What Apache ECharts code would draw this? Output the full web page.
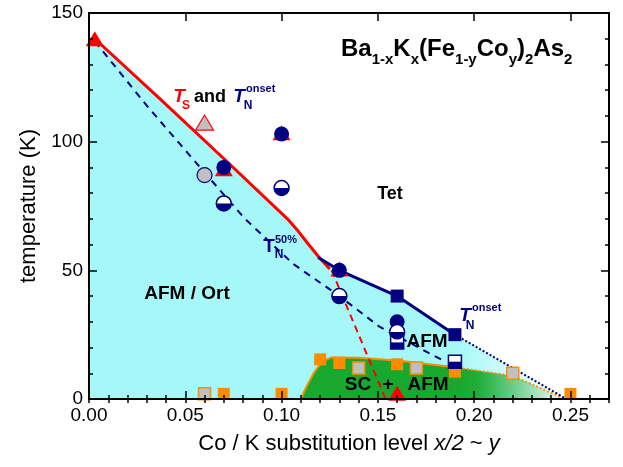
<!DOCTYPE html>
<html>
<head>
<meta charset="utf-8">
<script src="https://cdn.jsdelivr.net/npm/echarts@6/dist/echarts.min.js"></script>
<style>
html,body{margin:0;padding:0;background:#fff;}
#chart{width:623px;height:467px;}
</style>
</head>
<body>
<div id="chart"></div>
<script>
// ---- phase boundaries: [Co/K level, temperature (K)] ----
const tsLine      = [[0.003,140],[0.037,116.5],[0.072,92],[0.103,70],[0.108,65.8],[0.113,61],[0.119,55.5],[0.125,50.5]];
const tnOnsetLine = [[0.119,55],[0.13,50],[0.16,40],[0.19,25]];
const tnOnsetTail = [[0.19,25],[0.248,0]];
const tn50Line    = [[0.003,139],[0.03,114],[0.06,88],[0.081,70],[0.106,52.5],[0.13,40],[0.151,28],[0.185,14.5]];
const tsDrop      = [[0.126,50],[0.154,0]];
const scDome      = [[0.110,0],[0.113,5],[0.117,10.5],[0.121,14.5],[0.126,16.2],[0.14,16],[0.16,15],[0.19,12.3]];
const scTail      = [[0.19,12.3],[0.22,9],[0.247,0]];

// ---- measured transitions ----
const tsPts       = [[0.003,140],[0.07,89.5],[0.10,103.5],[0.13,50.5],[0.16,2.2]];
const tsGrayPts   = [[0.06,107.4]];
const tnOnsetPts  = [[0.07,90],[0.10,103],[0.13,50],[0.16,30]];
const tnGrayPts   = [[0.06,87]];
const tn50Pts     = [[0.07,76],[0.10,82],[0.13,40],[0.16,26]];
const tnSqPts     = [[0.16,40],[0.19,25]];
const tn50SqPts   = [[0.16,22],[0.19,14.5]];
const tcPts       = [[0.07,2],[0.10,2],[0.12,15.4],[0.13,14],[0.16,13.5],[0.19,10.6],[0.25,2]];
const tcGrayPts   = [[0.06,2],[0.14,12],[0.17,12],[0.22,10]];

// ---- axes ----
const xRange = [0, 0.27];
const yRange = [0, 150];
const xMajor = 0.05, xMinor = 0.01;
const yMajor = 50;

const NAVY = '#000080', RED = '#ff0000', ORANGE = '#ff8c00', GRAY = '#c0c0c0';
const CYAN = '#a6f8f8', GREEN = '#17a82d';
const FONT = '"Liberation Sans", Arial, sans-serif';

// upper edge of the AFM / orthorhombic region
const afmEdge = [[0, 141]]
  .concat(tsLine.filter(p => p[0] < tnOnsetLine[0][0]))
  .concat(tnOnsetLine)
  .concat([tnOnsetTail[1]]);
const afmFadeStart = tnOnsetTail[0][0] / tnOnsetTail[1][0];

const chart = echarts.init(document.getElementById('chart'), null, {renderer: 'canvas'});

function xAxisPair(pos, withLabels) {
  const base = {
    type: 'value', position: pos, min: xRange[0], max: xRange[1],
    splitLine: {show: false}, z: 20
  };
  return [
    Object.assign({}, base, {
      interval: xMajor,
      axisLine: {show: true, onZero: false, lineStyle: {color: '#000', width: 2}},
      axisTick: {show: true, inside: true, length: 8, lineStyle: {color: '#000', width: 1.5}},
      axisLabel: withLabels ? {
        show: true, formatter: v => v.toFixed(2), fontSize: 19, color: '#000',
        fontFamily: FONT, margin: 7, showMaxLabel: false
      } : {show: false},
      name: withLabels ? 'Co / K substitution level {i|x/2} ~ {i|y}' : '',
      nameLocation: 'middle', nameGap: 34,
      nameTextStyle: {
        fontSize: 22, color: '#000', fontFamily: FONT,
        rich: {i: {fontSize: 22, fontStyle: 'italic', color: '#000', fontFamily: FONT}}
      }
    }),
    Object.assign({}, base, {
      interval: xMinor,
      axisLine: {show: false},
      axisTick: {show: true, inside: true, length: 4, lineStyle: {color: '#000', width: 1.5}},
      axisLabel: {show: false}
    })
  ];
}

function yAxis(pos, withLabels) {
  return {
    type: 'value', position: pos, min: yRange[0], max: yRange[1], interval: yMajor, z: 20,
    splitLine: {show: false},
    axisLine: {show: true, onZero: false, lineStyle: {color: '#000', width: 2}},
    axisTick: {show: true, inside: true, length: 8, lineStyle: {color: '#000', width: 1.5}},
    minorTick: {show: true, splitNumber: 5, length: 4, lineStyle: {color: '#000', width: 1.5}},
    axisLabel: withLabels ? {show: true, fontSize: 19, color: '#000', fontFamily: FONT, margin: 6} : {show: false},
    name: withLabels ? 'temperature (K)' : '',
    nameLocation: 'middle', nameGap: 40,
    nameTextStyle: {fontSize: 22, color: '#000', fontFamily: FONT}
  };
}

function lineSeries(data, style, z, extra) {
  return Object.assign({
    type: 'line', data: data, xAxisIndex: 0, yAxisIndex: 0, z: z,
    showSymbol: false, symbol: 'none', smooth: false, clip: false,
    lineStyle: style, silent: true
  }, extra || {});
}

function marks(data, symbol, size, itemStyle, z, extra) {
  return Object.assign({
    type: 'scatter', data: data, xAxisIndex: 0, yAxisIndex: 0, z: z,
    symbol: symbol, symbolSize: size, itemStyle: Object.assign({opacity: 1}, itemStyle),
    clip: false, silent: true
  }, extra || {});
}

const HALF_DISK = 'path://M0,0 A10,10 0 0,0 20,0 Z';
const D = 15, S = 13, Q = 12;

const txt = (x, y, text, size, color, weight, style, align) => ({
  type: 'text', x: x, y: y, silent: true, z: 100,
  style: {
    text: text, fill: color, align: align || 'center', verticalAlign: 'middle',
    font: (style || 'normal') + ' ' + (weight || 'bold') + ' ' + size + 'px ' + FONT
  }
});

const option = {
  animation: false,
  backgroundColor: '#fff',
  grid: {left: 89, right: 14, top: 13, bottom: 68, containLabel: false},
  xAxis: xAxisPair('bottom', true).concat(xAxisPair('top', false)),
  yAxis: [yAxis('left', true), yAxis('right', false)],
  series: [
    // AFM / Ort region
    lineSeries(afmEdge, {width: 0, opacity: 0}, 1, {
      areaStyle: {
        opacity: 1,
        color: new echarts.graphic.LinearGradient(0, 0, 1, 0, [
          {offset: 0, color: CYAN},
          {offset: afmFadeStart, color: CYAN},
          {offset: 1, color: '#ffffff'}
        ])
      }
    }),
    // SC + AFM dome
    lineSeries(scDome, {color: ORANGE, width: 2}, 2, {areaStyle: {color: GREEN, opacity: 1}}),
    lineSeries(scTail, {color: ORANGE, width: 2, type: [2, 2]}, 2, {
      areaStyle: {
        opacity: 1,
        color: new echarts.graphic.LinearGradient(0, 0, 1, 0, [
          {offset: 0, color: 'rgba(23,168,45,1)'},
          {offset: 0.2, color: 'rgba(23,168,45,0.95)'},
          {offset: 1, color: 'rgba(23,168,45,0)'}
        ])
      }
    }),
    // transition lines
    lineSeries(tn50Line, {color: NAVY, width: 2, type: [7, 6]}, 3),
    lineSeries(tsDrop, {color: RED, width: 2, type: [7, 5]}, 3),
    lineSeries(tsLine, {color: RED, width: 3}, 3),
    lineSeries(tnOnsetLine, {color: NAVY, width: 3}, 3),
    lineSeries(tnOnsetTail, {color: NAVY, width: 2, type: [2, 2]}, 3),

    // structural transition
    marks(tsPts, 'triangle', [18, 15], {color: RED}, 5),
    marks(tsGrayPts, 'triangle', [18, 15], {color: GRAY, borderColor: RED, borderWidth: 1.2}, 5),
    // magnetic onset
    marks(tnOnsetPts, 'circle', D, {color: NAVY}, 6),
    marks(tnGrayPts, 'circle', D, {color: GRAY, borderColor: NAVY, borderWidth: 1.2}, 6),
    marks(tnSqPts, 'rect', S, {color: NAVY}, 6),
    // 50% magnetic transition (half-filled)
    marks(tn50Pts, 'circle', D, {color: '#fff', borderColor: NAVY, borderWidth: 1.5}, 7),
    marks(tn50Pts, HALF_DISK, [D, D / 2], {color: NAVY}, 8, {symbolOffset: [0, D / 4], symbolKeepAspect: false}),
    marks(tn50SqPts, 'rect', S, {color: '#fff', borderColor: NAVY, borderWidth: 1.5}, 7),
    marks(tn50SqPts, 'rect', [S, S / 2], {color: NAVY}, 8, {symbolOffset: [0, S / 4]}),
    // superconducting Tc
    marks(tcPts, 'rect', Q, {color: ORANGE}, 6),
    marks(tcGrayPts, 'rect', Q, {color: GRAY, borderColor: ORANGE, borderWidth: 1.5}, 6)
  ],
  graphic: [
    {
      type: 'text', left: 341, top: 37, silent: true, z: 100,
      style: {
        text: '{b|Ba}{s|1-x}{b|K}{s|x}{b|(Fe}{s|1-y}{b|Co}{s|y}{b|)}{s|2}{b|As}{s|2}',
        rich: {
          b: {fontSize: 24, fontWeight: 'bold', fontFamily: FONT, fill: '#000', verticalAlign: 'top'},
          s: {fontSize: 15, fontWeight: 'bold', fontFamily: FONT, fill: '#000', verticalAlign: 'top', padding: [15, 0, 0, 0]}
        }
      }
    },
    // T_S and T_N^onset
    txt(179, 97, 'T', 19, RED, 'bold', 'italic'),
    txt(186, 106, 'S', 12, RED, 'bold'),
    txt(210, 97, 'and', 18, '#000', 'bold'),
    txt(239, 97, 'T', 19, NAVY, 'bold', 'italic'),
    txt(248, 106, 'N', 12, NAVY, 'bold'),
    txt(246, 89, 'onset', 11, NAVY, 'bold', 'normal', 'left'),
    // region labels
    txt(390, 194, 'Tet', 18, '#000', 'bold'),
    txt(187, 294, 'AFM / Ort', 19, '#000', 'bold'),
    txt(427, 342, 'AFM', 19, '#000', 'bold'),
    txt(358, 385, 'SC', 19, '#000', 'bold'),
    txt(388, 385, '+', 19, '#000', 'bold'),
    txt(428, 385, 'AFM', 19, '#000', 'bold'),
    // T_N^50%
    txt(269, 247, 'T', 19, NAVY, 'bold'),
    txt(279, 255, 'N', 12, NAVY, 'bold'),
    txt(275, 240, '50%', 11, NAVY, 'bold', 'normal', 'left'),
    // T_N^onset (right)
    txt(465, 316, 'T', 19, NAVY, 'bold', 'italic'),
    txt(470, 326, 'N', 12, NAVY, 'bold'),
    txt(472, 308, 'onset', 11, NAVY, 'bold', 'normal', 'left')
  ]
};

chart.setOption(option);
</script>
</body>
</html>
